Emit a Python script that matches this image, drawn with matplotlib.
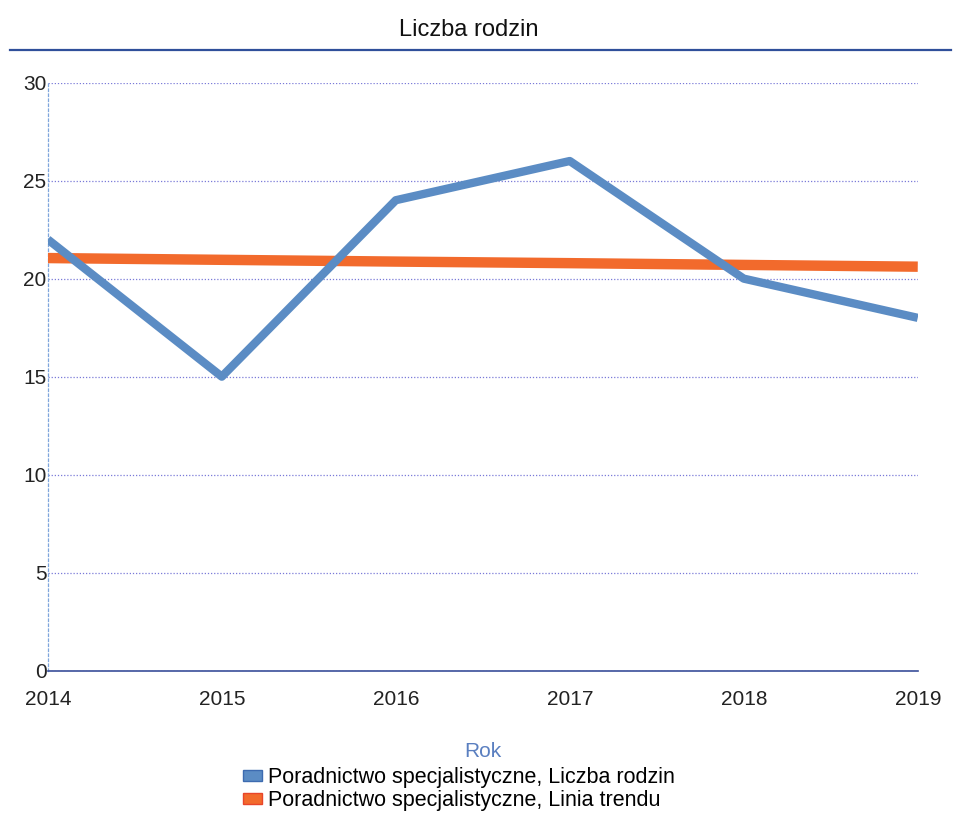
import numpy as np
import matplotlib
matplotlib.use("Agg")
import matplotlib.pyplot as plt
from matplotlib.patches import Patch

# dane
lata = ["2014", "2015", "2016", "2017", "2018", "2019"]
liczba_rodzin = [22, 15, 24, 26, 20, 18]
linia_trendu = [21.05, 20.96, 20.87, 20.79, 20.70, 20.61]
y_ticks = [0, 5, 10, 15, 20, 25, 30]

plt.rcParams['font.family'] = ['Liberation Sans', 'DejaVu Sans']

fig = plt.figure(figsize=(9.56, 8.26), dpi=100)
ax = fig.add_axes([0.050, 0.188, 0.910, 0.712])

x = np.arange(len(lata))
ax.plot(x, linia_trendu, '-', color='#f26a2c', lw=7.5, solid_capstyle='butt', zorder=3)
ax.plot(x, liczba_rodzin, '-', color='#5b8cc4', lw=6, solid_capstyle='butt', zorder=4)

ax.set_xlim(0, len(lata) - 1)
ax.set_ylim(0, 30)
ax.set_yticks(y_ticks)
ax.set_xticks(x)
ax.set_xticklabels(lata)
ax.tick_params(axis='both', length=0, labelsize=15, colors='#222222')
ax.tick_params(axis='x', pad=14)
ax.tick_params(axis='y', pad=1)
ax.grid(axis='y', color='#7a7ad8', lw=0.9, ls=(0, (1, 1.5)))
ax.set_axisbelow(True)
for s in ['top', 'right']:
    ax.spines[s].set_visible(False)
ax.spines['left'].set_color('#7fa6dc')
ax.spines['left'].set_linestyle((0, (2, 2)))
ax.spines['left'].set_linewidth(0.9)
ax.spines['bottom'].set_color('#3a4f9a')
ax.spines['bottom'].set_linewidth(1.2)

ax.set_xlabel("Rok", color='#5a7fc0', fontsize=15, labelpad=24)

fig.text(0.49, 0.964, "Liczba rodzin", ha='center', va='center', fontsize=17, color='#111111')
fig.add_artist(plt.Line2D([0.01, 0.995], [0.940, 0.940], color='#2f4f9a', lw=1.6))

uchwyty = [Patch(facecolor='#5b8cc4', edgecolor='#3d6bb0'),
           Patch(facecolor='#f26a2c', edgecolor='#e8452a')]
fig.legend(uchwyty,
           ["Poradnictwo specjalistyczne, Liczba rodzin",
            "Poradnictwo specjalistyczne, Linia trendu"],
           loc='upper left', bbox_to_anchor=(0.243, 0.084),
           frameon=False, fontsize=15.5, handlelength=0.9, handleheight=0.4,
           handletextpad=0.25, labelspacing=0.08, borderpad=0)

fig.savefig("out.png", dpi=100, facecolor='white')
